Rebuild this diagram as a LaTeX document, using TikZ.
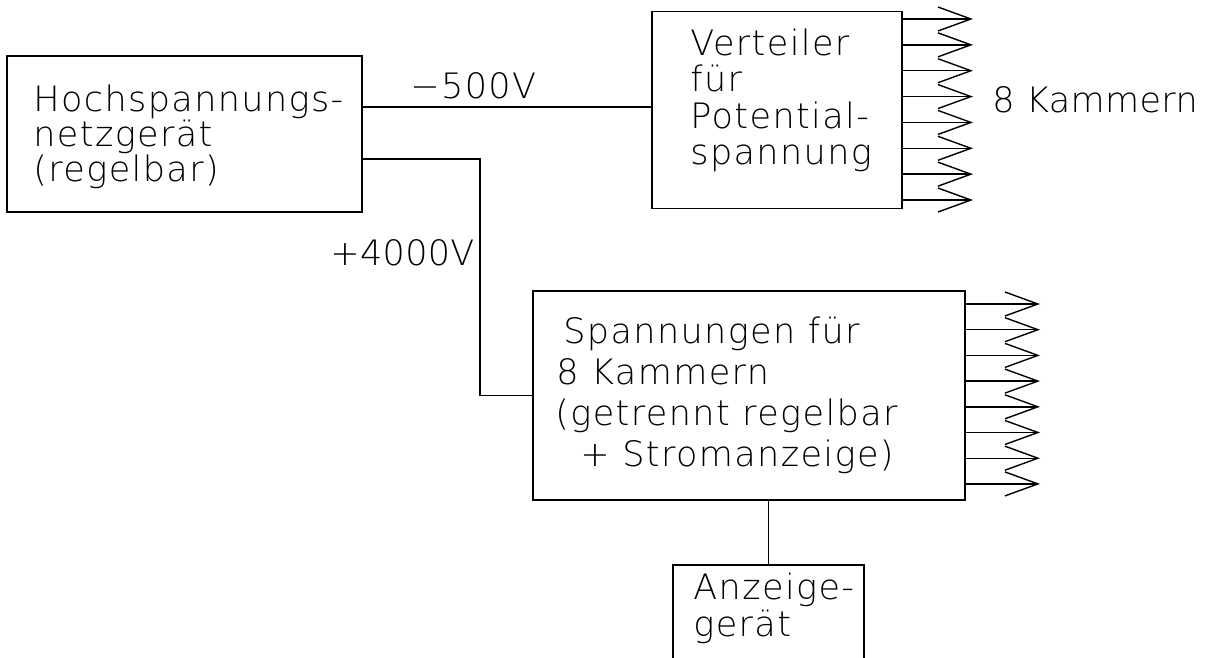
\documentclass[tikz,border=0pt]{standalone}
\usepackage{fontspec}
\IfFontExistsTF{DejaVu Sans ExtraLight}
  {\newfontfamily\plotfont[LetterSpace=4]{DejaVu Sans ExtraLight}%
   \newfontfamily\plotfonttight[LetterSpace=1]{DejaVu Sans ExtraLight}}
  {\newfontfamily\plotfont[LetterSpace=4]{DejaVu Sans}%
   \newfontfamily\plotfonttight[LetterSpace=1]{DejaVu Sans}}
\usetikzlibrary{arrows.meta}
\tikzset{
  box/.style={draw, line width=0.7pt, inner sep=0pt, outer sep=0pt},
  txt/.style={anchor=base west, inner sep=0pt, font=\plotfont\fontsize{17.5pt}{20pt}\selectfont},
  tighttxt/.style={anchor=base west, inner sep=0pt, font=\plotfonttight\fontsize{17.5pt}{20pt}\selectfont},
  wire/.style={line width=0.7pt},
  outarrow/.style={line width=0.7pt, -{Straight Barb[length=16.5pt, width=12pt, line width=0.7pt]}}
}
\begin{document}
\begin{tikzpicture}[x=0.5pt, y=-0.5pt]
\useasboundingbox (0,0) rectangle (1205,658);
\clip (0,0) rectangle (1205,658);
% boxes
\node[box, minimum width=177.5pt, minimum height=78pt] (hv) at (184.5,134) {};
\node[box, minimum width=125pt, minimum height=98.5pt] (vt) at (777,110) {};
\node[box, minimum width=216pt, minimum height=104.5pt] (sp) at (749,395.5) {};
\node[box, minimum width=95.5pt, minimum height=67.5pt] (az) at (768.5,632.5) {};
% texts
\node[txt] (hv1) at (33,112) {Hochspannungs-};
\node[txt] (hv2) at (33,147) {netzgerät};
\node[txt] (hv3) at (33,182) {(regelbar)};
\node[txt] (vt1) at (690,56) {Verteiler};
\node[txt] (vt2) at (690,92) {für};
\node[txt] (vt3) at (690,128) {Potential-};
\node[txt] (vt4) at (690,164) {spannung};
\node[txt] (sp1) at (563,343) {Spannungen für};
\node[txt] (sp2) at (556,384) {8 Kammern};
\node[txt] (sp3) at (555,425) {(getrennt regelbar};
\node[txt] (sp4) at (555,466) {\ \ + Stromanzeige)};
\node[txt] (az1) at (693,599) {Anzeige-};
\node[txt] (az2) at (693,636) {gerät};
\node[txt] (l500) at (410,99) {−500V};
\node[tighttxt] (l4000) at (330,265) {+4000V};
\node[tighttxt] (kam) at (992,113) {8 Kammern};
% connectors
\coordinate (c500) at (0,107);
\coordinate (c4000) at (480,159);
\draw[wire] (hv.east |- c500) -- (vt.west |- c500);
\draw[wire] (hv.east |- c4000) -- (c4000) |- (sp.west);
\draw[wire] (az.north) -- (az.north |- sp.south);
% output arrows
\foreach \i in {0,...,7} {
  \coordinate (ta\i) at (973, 19+25.86*\i);
  \draw[outarrow] (vt.east |- ta\i) -- (ta\i);
  \coordinate (ba\i) at (1040, 304+25.7*\i);
  \draw[outarrow] (sp.east |- ba\i) -- (ba\i);
}
\end{tikzpicture}
\end{document}
